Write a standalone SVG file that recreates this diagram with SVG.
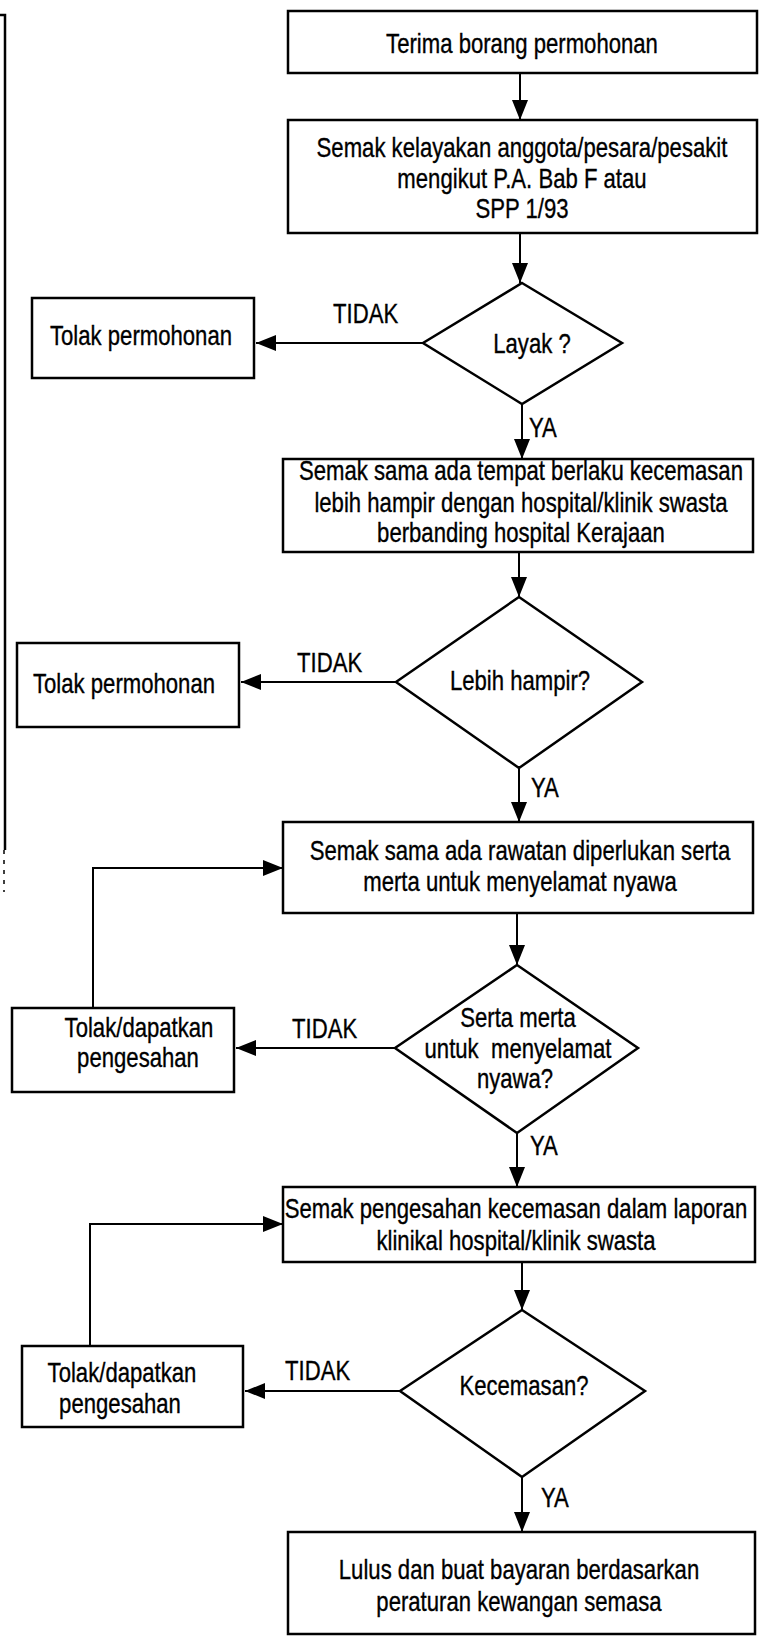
<svg xmlns="http://www.w3.org/2000/svg" width="760" height="1637" viewBox="0 0 760 1637">
<style>
.box{fill:#fff;stroke:#000;stroke-width:2.5}
.dia{fill:#fff;stroke:#000;stroke-width:2.5}
.con{fill:none;stroke:#000;stroke-width:2}
text{font-family:"Liberation Sans",Arial,sans-serif;font-size:27px;fill:#000;stroke:#000;stroke-width:0.35;text-anchor:middle}
.st{text-anchor:start}
</style>
<defs>
<marker id="ah" markerUnits="userSpaceOnUse" markerWidth="20" markerHeight="16" refX="20" refY="8" orient="auto">
<path d="M0,0 L20,8 L0,16 Z" fill="#000"/>
</marker>
</defs>
<rect width="760" height="1637" fill="#fff"/>
<g id="page-edge">
<path d="M0,15 H5 V850" fill="none" stroke="#000" stroke-width="2.5"/>
<path d="M4,850 V892" fill="none" stroke="#000" stroke-width="1.5" stroke-dasharray="4 6"/>
</g>
<g id="connectors">
<line class="con" x1="520" y1="73" x2="520" y2="120" marker-end="url(#ah)"/>
<line class="con" x1="520" y1="233" x2="520" y2="283" marker-end="url(#ah)"/>
<line class="con" x1="423" y1="343" x2="256" y2="343" marker-end="url(#ah)"/>
<line class="con" x1="522" y1="404" x2="522" y2="459" marker-end="url(#ah)"/>
<line class="con" x1="519" y1="552" x2="519" y2="597" marker-end="url(#ah)"/>
<line class="con" x1="396" y1="682" x2="241" y2="682" marker-end="url(#ah)"/>
<line class="con" x1="519" y1="768" x2="519" y2="822" marker-end="url(#ah)"/>
<line class="con" x1="517" y1="913" x2="517" y2="965" marker-end="url(#ah)"/>
<line class="con" x1="395" y1="1048" x2="236" y2="1048" marker-end="url(#ah)"/>
<line class="con" x1="517" y1="1133" x2="517" y2="1187" marker-end="url(#ah)"/>
<polyline class="con" points="93,1008 93,868 283,868" marker-end="url(#ah)"/>
<line class="con" x1="522" y1="1262" x2="522" y2="1310" marker-end="url(#ah)"/>
<line class="con" x1="400" y1="1391" x2="245" y2="1391" marker-end="url(#ah)"/>
<polyline class="con" points="90,1346 90,1224 283,1224" marker-end="url(#ah)"/>
<line class="con" x1="522" y1="1477" x2="522" y2="1532" marker-end="url(#ah)"/>
<text class="st" transform="translate(333 323) scale(0.82 1)">TIDAK</text>
<text class="st" transform="translate(529 437) scale(0.82 1)">YA</text>
<text class="st" transform="translate(297 672) scale(0.82 1)">TIDAK</text>
<text class="st" transform="translate(531 797) scale(0.82 1)">YA</text>
<text class="st" transform="translate(292 1038) scale(0.82 1)">TIDAK</text>
<text class="st" transform="translate(530 1155) scale(0.82 1)">YA</text>
<text class="st" transform="translate(285 1380) scale(0.82 1)">TIDAK</text>
<text class="st" transform="translate(541 1507) scale(0.82 1)">YA</text>
</g>
<g id="n1">
<rect class="box" x="288" y="11" width="469" height="62"/>
<text transform="translate(522 53) scale(0.82 1)">Terima borang permohonan</text>
</g>
<g id="n2">
<rect class="box" x="288" y="120" width="469" height="113"/>
<text transform="translate(522 157) scale(0.82 1)">Semak kelayakan anggota/pesara/pesakit</text>
<text transform="translate(522 188) scale(0.82 1)">mengikut P.A. Bab F atau</text>
<text transform="translate(522 218) scale(0.82 1)">SPP 1/93</text>
</g>
<g id="d1">
<polygon class="dia" points="522,283 622,343 522,404 423,343"/>
<text transform="translate(532 353) scale(0.82 1)">Layak ?</text>
</g>
<g id="r1">
<rect class="box" x="32" y="298" width="222" height="80"/>
<text transform="translate(141 345) scale(0.82 1)">Tolak permohonan</text>
</g>
<g id="n3">
<rect class="box" x="283" y="459" width="470" height="93"/>
<text transform="translate(521 480) scale(0.82 1)">Semak sama ada tempat berlaku kecemasan</text>
<text transform="translate(521 512) scale(0.82 1)">lebih hampir dengan hospital/klinik swasta</text>
<text transform="translate(521 542) scale(0.82 1)">berbanding hospital Kerajaan</text>
</g>
<g id="d2">
<polygon class="dia" points="519,597 642,682 519,768 396,682"/>
<text transform="translate(520 690) scale(0.82 1)">Lebih hampir?</text>
</g>
<g id="r2">
<rect class="box" x="17" y="643" width="222" height="84"/>
<text transform="translate(124 693) scale(0.82 1)">Tolak permohonan</text>
</g>
<g id="n4">
<rect class="box" x="283" y="822" width="470" height="91"/>
<text transform="translate(520 860) scale(0.82 1)">Semak sama ada rawatan diperlukan serta</text>
<text transform="translate(520 891) scale(0.82 1)">merta untuk menyelamat nyawa</text>
</g>
<g id="d3">
<polygon class="dia" points="517,965 638,1048 517,1133 395,1048"/>
<text transform="translate(518 1027) scale(0.82 1)">Serta merta</text>
<text transform="translate(518 1058) scale(0.82 1)" xml:space="preserve">untuk  menyelamat</text>
<text transform="translate(515 1088) scale(0.82 1)">nyawa?</text>
</g>
<g id="r3">
<rect class="box" x="12" y="1008" width="222" height="84"/>
<text transform="translate(139 1037) scale(0.82 1)">Tolak/dapatkan</text>
<text transform="translate(138 1067) scale(0.82 1)">pengesahan</text>
</g>
<g id="n5">
<rect class="box" x="283" y="1187" width="472" height="75"/>
<text transform="translate(516 1218) scale(0.82 1)">Semak pengesahan kecemasan dalam laporan</text>
<text transform="translate(516 1250) scale(0.82 1)">klinikal hospital/klinik swasta</text>
</g>
<g id="d4">
<polygon class="dia" points="522,1310 645,1391 522,1477 400,1391"/>
<text transform="translate(524 1395) scale(0.82 1)">Kecemasan?</text>
</g>
<g id="r4">
<rect class="box" x="22" y="1346" width="221" height="81"/>
<text transform="translate(122 1382) scale(0.82 1)">Tolak/dapatkan</text>
<text transform="translate(120 1413) scale(0.82 1)">pengesahan</text>
</g>
<g id="n6">
<rect class="box" x="288" y="1532" width="467" height="102"/>
<text transform="translate(519 1579) scale(0.82 1)">Lulus dan buat bayaran berdasarkan</text>
<text transform="translate(519 1611) scale(0.82 1)">peraturan kewangan semasa</text>
</g>
</svg>
